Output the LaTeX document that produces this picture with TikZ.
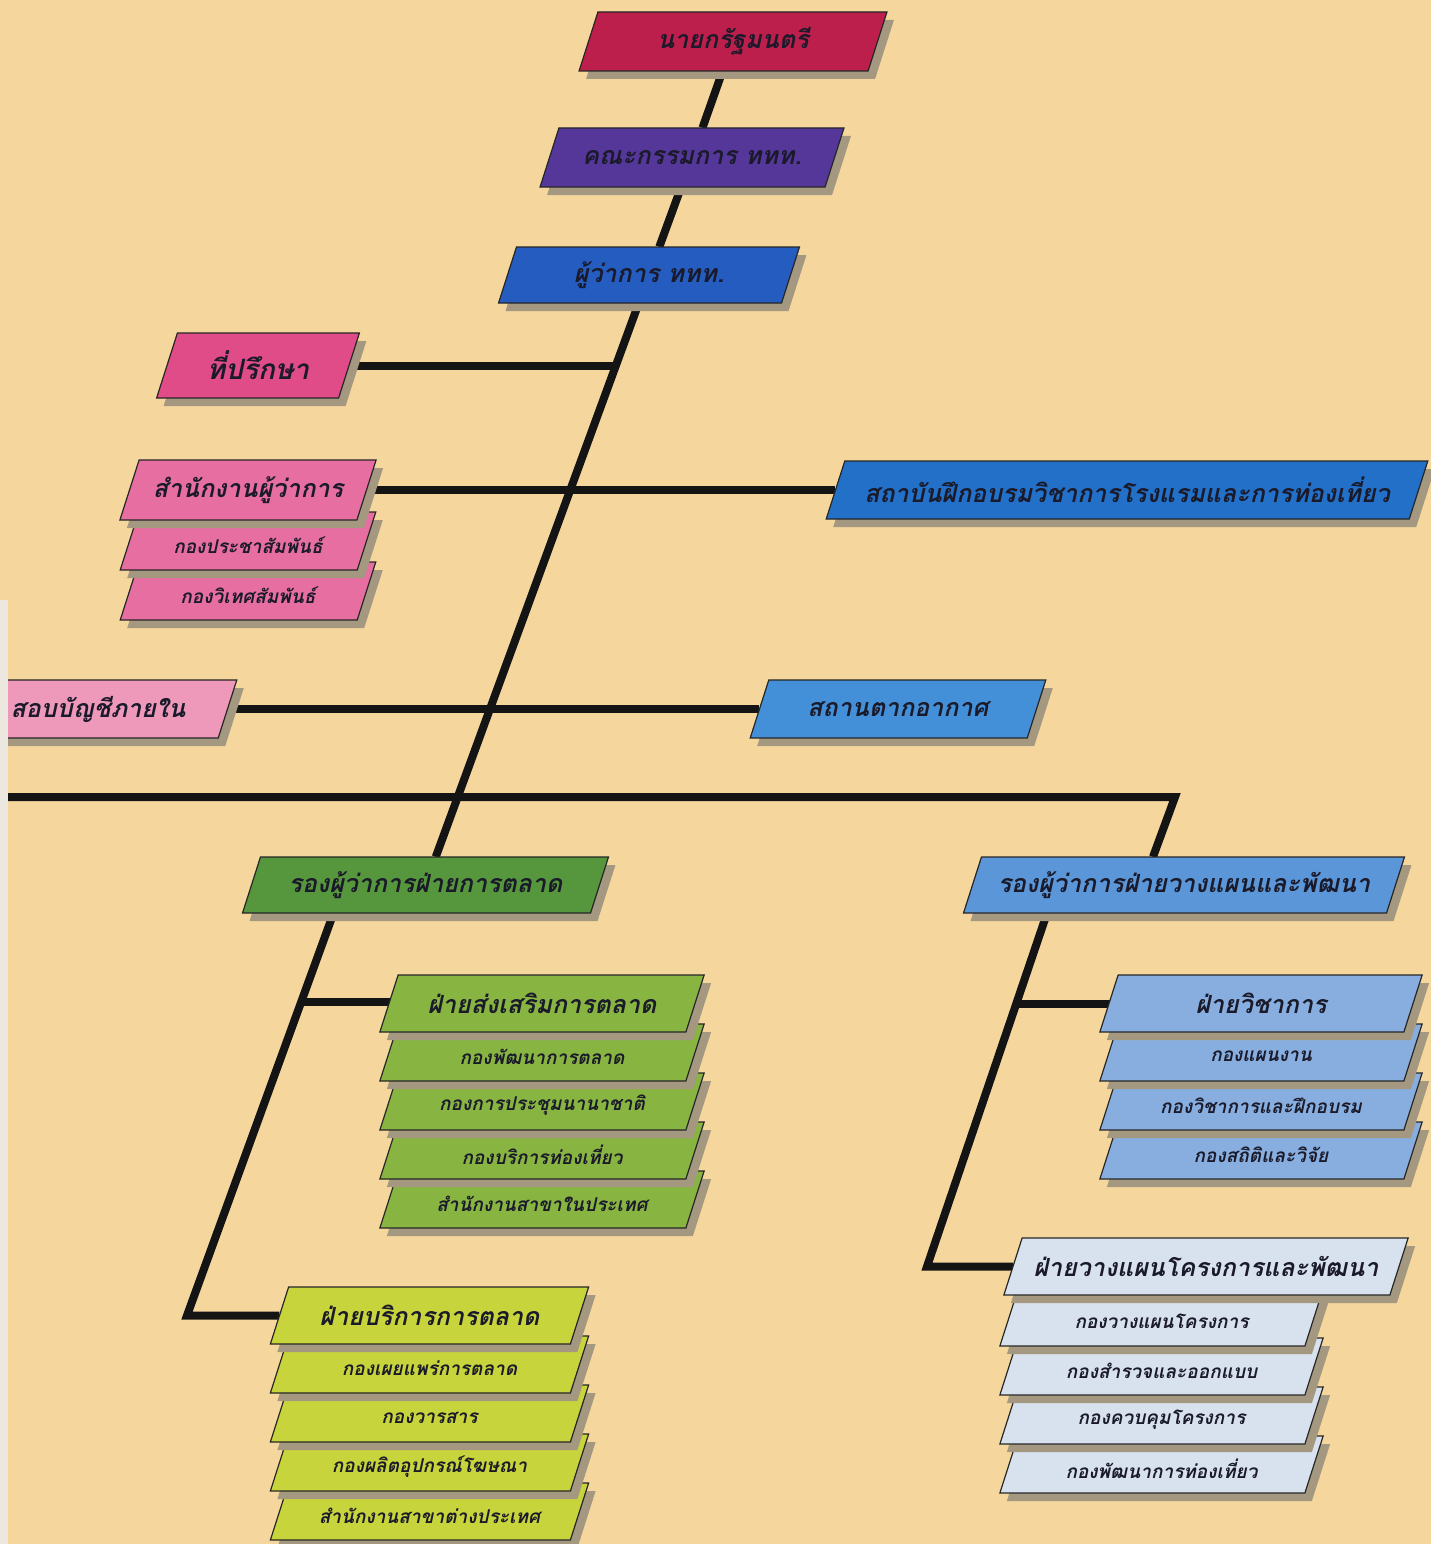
\documentclass[tikz,border=0pt]{standalone}
\usepackage{fontspec}
\newfontfamily\thaifont[Script=Thai]{Loma}
\usetikzlibrary{calc}

\definecolor{paper}{HTML}{F5D79E}
\definecolor{stripc}{HTML}{ECE8E0}
\definecolor{shadowc}{HTML}{A59880}
\definecolor{linec}{HTML}{141414}
\definecolor{textc}{HTML}{1A1A2A}
\definecolor{pmred}{HTML}{BC1F4B}
\definecolor{boardpurple}{HTML}{55379A}
\definecolor{govblue}{HTML}{245CC0}
\definecolor{advpink}{HTML}{E04C88}
\definecolor{officepink}{HTML}{E66EA0}
\definecolor{auditpink}{HTML}{EE98BA}
\definecolor{instblue}{HTML}{2270C8}
\definecolor{resortblue}{HTML}{4490D8}
\definecolor{vpmgreen}{HTML}{56963C}
\definecolor{promgreen}{HTML}{88B442}
\definecolor{svcyellow}{HTML}{C8D43C}
\definecolor{vppblue}{HTML}{5A96D8}
\definecolor{acadblue}{HTML}{88AEE0}
\definecolor{projgrey}{HTML}{D8E2EE}

\newcommand{\bigthai}{\thaifont\bfseries\itshape\fontsize{25}{28}\selectfont}
\newcommand{\smallthai}{\thaifont\bfseries\itshape\fontsize{19}{22}\selectfont}

\pgfdeclarelayer{paperlayer}
\pgfdeclarelayer{linklayer}
\pgfsetlayers{paperlayer,linklayer,main}

% slanted box: name, x, y, width, height, fill, text style, text
\newcommand{\orgbox}[8]{%
  \fill[boxshadow] ({#2-#4/2+0.16*#5+7},{#3-#5/2+8}) -- ({#2+#4/2+0.16*#5+7},{#3-#5/2+8})
    -- ({#2+#4/2-0.16*#5+7},{#3+#5/2+8}) -- ({#2-#4/2-0.16*#5+7},{#3+#5/2+8}) -- cycle;
  \filldraw[boxline, fill=#6] ({#2-#4/2+0.16*#5},{#3-#5/2}) -- ({#2+#4/2+0.16*#5},{#3-#5/2})
    -- ({#2+#4/2-0.16*#5},{#3+#5/2}) -- ({#2-#4/2-0.16*#5},{#3+#5/2}) -- cycle;
  \node[boxtext, #7, minimum width=#4pt, minimum height=#5pt] (#1) at (#2,#3) {#8};
}

\begin{document}
\begin{tikzpicture}[x=1pt, y=-1pt,
    link/.style={draw=linec, line width=8pt, line join=miter},
    boxshadow/.style={fill=shadowc},
    boxline/.style={draw=black!85, line width=1.2pt},
    boxtext/.style={inner sep=0pt, text=textc, align=center},
    headtext/.style={font=\bigthai},
    subtext/.style={font=\smallthai, yshift=-4pt}]
  \useasboundingbox (0,0) rectangle (1431,1544);
  \begin{pgfonlayer}{paperlayer}
    \fill[paper] (0,0) rectangle (1431,1544);
  \end{pgfonlayer}

  % head office
  \orgbox{pm}{733}{41.5}{289}{59}{pmred}{headtext}{นายกรัฐมนตรี}
  \orgbox{board}{692}{157.5}{285}{59}{boardpurple}{headtext}{คณะกรรมการ ททท.}
  \orgbox{gov}{649}{275}{283}{56}{govblue}{headtext}{ผู้ว่าการ ททท.}
  \orgbox{adv}{258}{365.5}{182}{65}{advpink}{headtext, font=\thaifont\bfseries\itshape\fontsize{28}{30}\selectfont}{ที่ปรึกษา}
  \orgbox{intl}{248}{591}{237}{58}{officepink}{subtext}{กองวิเทศสัมพันธ์}
  \orgbox{pr}{248}{541}{237}{58}{officepink}{subtext}{กองประชาสัมพันธ์}
  \orgbox{office}{248}{490}{237}{60}{officepink}{headtext}{สำนักงานผู้ว่าการ}
  \orgbox{inst}{1127}{490}{583}{58}{instblue}{headtext}{สถาบันฝึกอบรมวิชาการโรงแรมและการท่องเที่ยว}
  \orgbox{audit}{98}{709}{259}{58}{auditpink}{headtext}{สอบบัญชีภายใน}
  \orgbox{resort}{898}{709}{277}{58}{resortblue}{headtext}{สถานตากอากาศ}

  % marketing
  \orgbox{vpm}{425.5}{885}{348}{56}{vpmgreen}{headtext}{รองผู้ว่าการฝ่ายการตลาด}
  \orgbox{branch}{542}{1199.5}{306}{57}{promgreen}{subtext}{สำนักงานสาขาในประเทศ}
  \orgbox{tour}{542}{1150.5}{306}{57}{promgreen}{subtext}{กองบริการท่องเที่ยว}
  \orgbox{conv}{542}{1101.5}{306}{57}{promgreen}{subtext}{กองการประชุมนานาชาติ}
  \orgbox{mdev}{542}{1052.5}{306}{57}{promgreen}{subtext}{กองพัฒนาการตลาด}
  \orgbox{prom}{542}{1003.5}{306}{57}{promgreen}{headtext}{ฝ่ายส่งเสริมการตลาด}
  \orgbox{abroad}{429.5}{1511.5}{300}{57}{svcyellow}{subtext}{สำนักงานสาขาต่างประเทศ}
  \orgbox{adprod}{429.5}{1462.5}{300}{57}{svcyellow}{subtext}{กองผลิตอุปกรณ์โฆษณา}
  \orgbox{journal}{429.5}{1413.5}{300}{57}{svcyellow}{subtext}{กองวารสาร}
  \orgbox{publ}{429.5}{1364.5}{300}{57}{svcyellow}{subtext}{กองเผยแพร่การตลาด}
  \orgbox{svc}{429.5}{1315.5}{300}{57}{svcyellow}{headtext}{ฝ่ายบริการการตลาด}

  % planning
  \orgbox{vpp}{1184}{885}{423}{56}{vppblue}{headtext}{รองผู้ว่าการฝ่ายวางแผนและพัฒนา}
  \orgbox{stat}{1261}{1150.5}{304}{57}{acadblue}{subtext}{กองสถิติและวิจัย}
  \orgbox{train}{1261}{1101.5}{304}{57}{acadblue}{subtext}{กองวิชาการและฝึกอบรม}
  \orgbox{plan}{1261}{1052.5}{304}{57}{acadblue}{subtext}{กองแผนงาน}
  \orgbox{acad}{1261}{1003.5}{304}{57}{acadblue}{headtext}{ฝ่ายวิชาการ}
  \orgbox{tdev}{1161.5}{1464.5}{305}{57}{projgrey}{subtext}{กองพัฒนาการท่องเที่ยว}
  \orgbox{pctrl}{1161.5}{1415.5}{305}{57}{projgrey}{subtext}{กองควบคุมโครงการ}
  \orgbox{survey}{1161.5}{1366.5}{305}{57}{projgrey}{subtext}{กองสำรวจและออกแบบ}
  \orgbox{pplan}{1161.5}{1317.5}{305}{57}{projgrey}{subtext}{กองวางแผนโครงการ}
  \orgbox{proj}{1206}{1266.5}{386}{57}{projgrey}{headtext}{ฝ่ายวางแผนโครงการและพัฒนา}

  % connectors
  \begin{pgfonlayer}{linklayer}
    \draw[link] (pm) -- (board) -- (gov) -- (vpm);
    \coordinate (j-adv) at ($(gov)!0.148!(vpm)$);
    \draw[link] (adv) -- (adv -| j-adv);
    \draw[link] (office) -- (inst);
    \draw[link] (audit) -- (resort);
    \coordinate (west) at (0,797);
    \coordinate (knee) at (1175,797);
    \draw[link] (west) -- (knee) -- ($(vpp.north)+(-31,0)$);
    \coordinate (mk-top) at ($(vpm.south)+(-92,0)$);
    \coordinate (mk-bot) at (187,1315.5);
    \coordinate (mk-mid) at ($(mk-top)!0.22!(mk-bot)$);
    \draw[link] (mk-top) -- (mk-bot) -- (svc);
    \draw[link] (mk-mid) -- (mk-mid -| prom);
    \coordinate (pl-top) at ($(vpp.south)+(-137,0)$);
    \coordinate (pl-bot) at (927,1266.5);
    \coordinate (pl-mid) at ($(pl-top)!0.256!(pl-bot)$);
    \draw[link] (pl-top) -- (pl-bot) -- (proj);
    \draw[link] (pl-mid) -- (pl-mid -| acad);
  \end{pgfonlayer}

  \fill[stripc] (0,600) rectangle (8,1544);
\end{tikzpicture}
\end{document}
